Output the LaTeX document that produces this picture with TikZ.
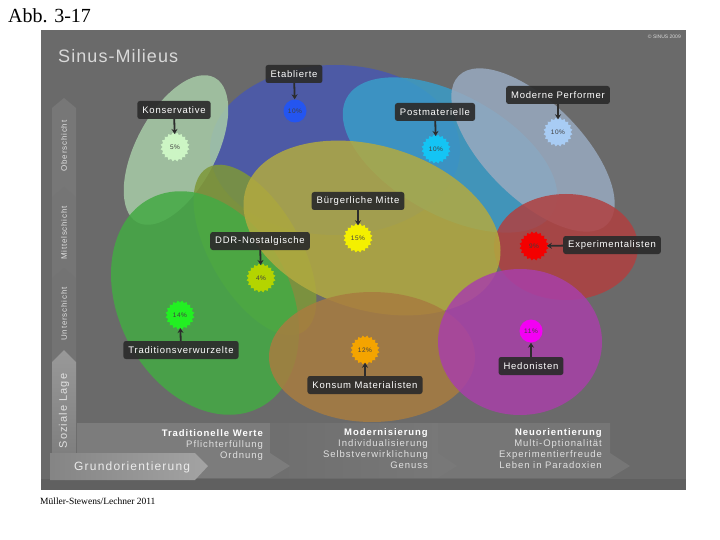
\documentclass[tikz,border=0pt]{standalone}
\usepackage{fontspec}
\setmainfont{Liberation Sans}
\newfontfamily\abbfont{Liberation Serif}
\newfontfamily\lab[LetterSpace=8]{Liberation Sans}
\newfontfamily\labw[LetterSpace=10]{Liberation Sans}
\newfontfamily\ttlfont[LetterSpace=6]{Liberation Sans}
\usetikzlibrary{shapes.geometric,arrows.meta}
\definecolor{panelbg}{HTML}{6A6A6A}
\definecolor{panelbot}{HTML}{606060}
\definecolor{lblbg}{HTML}{2C2C2C}
\definecolor{cEtab}{HTML}{4858B0}
\definecolor{cPost}{HTML}{3A9CC8}
\definecolor{cMod}{HTML}{98AAC0}
\definecolor{cKons}{HTML}{A8CCA8}
\definecolor{cDDR}{HTML}{7E9838}
\definecolor{cTrad}{HTML}{44AA44}
\definecolor{cBuerg}{HTML}{B2AA40}
\definecolor{cExp}{HTML}{B04040}
\definecolor{cKonsum}{HTML}{A87C40}
\definecolor{cHed}{HTML}{A840A8}
\definecolor{bKons}{HTML}{CCF5C4}
\definecolor{bEtab}{HTML}{2455F0}
\definecolor{bPost}{HTML}{14C4F4}
\definecolor{bMod}{HTML}{A8CCF4}
\definecolor{bBuerg}{HTML}{F4F000}
\definecolor{bDDR}{HTML}{B4D400}
\definecolor{bTrad}{HTML}{22F022}
\definecolor{bExp}{HTML}{F40000}
\definecolor{bKonsum}{HTML}{F4A400}
\definecolor{bHed}{HTML}{F400F4}
\begin{document}
\begin{tikzpicture}[x=1pt,y=-1pt,
  blob/.style={fill opacity=0.85},
  lbl/.style={fill=lblbg, fill opacity=0.93, text opacity=1, text=white,
    rounded corners=2.5pt, inner xsep=5pt, inner ysep=0pt, minimum height=18pt,
    font=\lab\fontsize{9.5}{11}\selectfont},
  badge/.style={star, star points=20, star point ratio=0.86, minimum size=25pt,
    inner sep=0pt, font=\lab\fontsize{6.5}{7}\selectfont, text=black!75},
  rbadge/.style={circle, minimum size=23pt, inner sep=0pt,
    font=\lab\fontsize{6.5}{7}\selectfont, text=black!75},
  arr/.style={-{Stealth[length=5pt,width=6pt]}, line width=1.8pt, draw=lblbg},
  axtxt/.style={rotate=90, text=white!88!black, font=\labw\fontsize{8}{9}\selectfont},
  bottxt/.style={align=right, text=white!88!black, inner sep=0pt,
    font=\labw\fontsize{9.5}{11.3}\selectfont}
]
\useasboundingbox (0,0) rectangle (720,540);
\fill[white] (0,0) rectangle (720,540);
\fill[panelbg] (41,30) rectangle (686,490);
\fill[panelbot] (41,479) rectangle (686,490);

% title texts
\node[anchor=base west, inner sep=0pt, font=\abbfont\fontsize{20}{22}\selectfont] (abb) at (8,23) {Abb. 3-17};
\node[anchor=base west, inner sep=0pt, font=\abbfont\fontsize{9.5}{11}\selectfont] (src) at (40,504) {Müller-Stewens/Lechner 2011};
\node[anchor=base west, inner sep=0pt, text=white!85!black, font=\ttlfont\fontsize{18}{20}\selectfont] (ttl) at (58,63) {Sinus-Milieus};
\node[anchor=east, inner sep=0pt, text=white!85!black, font=\fontsize{5}{6}\selectfont] (copy) at (681,37) {© SINUS 2009};

% milieu areas
\begin{scope}[shift={(335,150)}]
  \fill[cEtab,blob] (0,0) ellipse [x radius=125pt, y radius=85pt];
\end{scope}
\begin{scope}[shift={(450,155)}, rotate=-29]
  \fill[cPost,blob] (0,0) ellipse [x radius=118pt, y radius=60pt];
\end{scope}
\begin{scope}[shift={(533,150)}, rotate=-45]
  \fill[cMod,blob] (0,0) ellipse [x radius=105pt, y radius=48pt];
\end{scope}
\begin{scope}[shift={(176,150)}, rotate=62]
  \fill[cKons,blob] (0,0) ellipse [x radius=82pt, y radius=40pt];
\end{scope}
\begin{scope}[shift={(566,247)}]
  \fill[cExp,blob] (0,0) ellipse [x radius=72pt, y radius=53pt];
\end{scope}
\begin{scope}[shift={(255,250)}, rotate=-60]
  \fill[cDDR,blob] (0,0) ellipse [x radius=95pt, y radius=45pt];
\end{scope}
\begin{scope}[shift={(205,303)}, rotate=-62]
  \fill[cTrad,blob] (0,0) ellipse [x radius=118pt, y radius=86pt];
\end{scope}
\begin{scope}[shift={(372,228)}, rotate=-17]
  \fill[cBuerg,blob] (0,0) ellipse [x radius=132pt, y radius=82pt];
\end{scope}
\begin{scope}[shift={(372,357)}]
  \fill[cKonsum,blob] (0,0) ellipse [x radius=103pt, y radius=65pt];
\end{scope}
\begin{scope}[shift={(520,342)}]
  \fill[cHed,blob] (0,0) ellipse [x radius=82pt, y radius=73pt];
\end{scope}

% left axis
\fill[white!9!panelbg] (52,108) -- (64,98) -- (76,108) -- (76,197) -- (52,197) -- cycle;
\fill[white!7!panelbg] (52,197) -- (64,187) -- (76,197) -- (76,278) -- (52,278) -- cycle;
\fill[white!6!panelbg] (52,278) -- (64,268) -- (76,278) -- (76,362) -- (52,362) -- cycle;
\shade[top color=white!60!black, bottom color=white!49!black] (52,362) -- (64,350) -- (76,362) -- (76,460) -- (52,460) -- cycle;
\node[axtxt] (ober) at (64,146) {Oberschicht};
\node[axtxt] (mittel) at (64,233) {Mittelschicht};
\node[axtxt] (unter) at (64,314) {Unterschicht};
\node[axtxt, font=\labw\fontsize{11}{12}\selectfont] (lage) at (64,411) {Soziale Lage};

% bottom axis
\fill[white!8!panelbg] (438,423) -- (610,423) -- (610,453) -- (630,466) -- (610,478) -- (438,478) -- cycle;
\shade[left color=white!3!panelbg, right color=white!10!panelbg] (270,423) -- (438,423) -- (438,453) -- (457,466) -- (438,478) -- (270,478) -- cycle;
\fill[white!12!panelbg] (77,423) -- (270,423) -- (270,453) -- (290,466) -- (270,478) -- (77,478) -- cycle;
\shade[left color=white!52!black, right color=white!64!black] (50,453) -- (195,453) -- (208,466) -- (195,480) -- (50,480) -- cycle;
\node[anchor=west, inner sep=0pt, text=white!92!black, font=\labw\fontsize{12}{13}\selectfont] (grund) at (74,467) {Grundorientierung};
\node[bottxt, anchor=north east] (col1) at (263,429) {\textbf{\color{white}Traditionelle Werte}\\Pflichterfüllung\\Ordnung};
\node[bottxt, anchor=north east] (col2) at (428,428) {\textbf{\color{white}Modernisierung}\\Individualisierung\\Selbstverwirklichung\\Genuss};
\node[bottxt, anchor=north east] (col3) at (602,428) {\textbf{\color{white}Neuorientierung}\\Multi-Optionalität\\Experimentierfreude\\Leben in Paradoxien};

% labels and badges
\node[lbl] (lKons) at (174,110) {Konservative};
\node[badge, fill=bKons] (bKons) at (175,147) {5\%};
\node[lbl] (lEtab) at (294,74) {Etablierte};
\node[rbadge, fill=bEtab] (bEtab) at (295,111) {10\%};
\node[lbl] (lPost) at (435,112) {Postmaterielle};
\node[badge, fill=bPost] (bPost) at (436,149) {10\%};
\node[lbl] (lMod) at (558,95) {Moderne Performer};
\node[badge, fill=bMod] (bMod) at (558,132) {10\%};
\node[lbl] (lBuerg) at (358,201) {Bürgerliche Mitte};
\node[badge, fill=bBuerg] (bBuerg) at (358,238) {15\%};
\node[lbl] (lDDR) at (260,241) {DDR-Nostalgische};
\node[badge, fill=bDDR] (bDDR) at (261,278) {4\%};
\node[lbl] (lTrad) at (181,350) {Traditionsverwurzelte};
\node[badge, fill=bTrad] (bTrad) at (180,315) {14\%};
\node[lbl] (lKonsum) at (365,385) {Konsum Materialisten};
\node[badge, fill=bKonsum] (bKonsum) at (365,350) {12\%};
\node[lbl] (lHed) at (531,366) {Hedonisten};
\node[rbadge, fill=bHed] (bHed) at (531,331) {11\%};
\node[lbl] (lExp) at (612,245) {Experimentalisten};
\node[badge, fill=bExp] (bExp) at (534,246) {9\%};

\draw[arr] (lKons) -- (bKons);
\draw[arr] (lEtab) -- (bEtab);
\draw[arr] (lPost) -- (bPost);
\draw[arr] (lMod) -- (bMod);
\draw[arr] (lBuerg) -- (bBuerg);
\draw[arr] (lDDR) -- (bDDR);
\draw[arr] (lTrad) -- (bTrad);
\draw[arr] (lKonsum) -- (bKonsum);
\draw[arr] (lHed) -- (bHed);
\draw[arr] (lExp) -- (bExp);
\end{tikzpicture}
\end{document}
